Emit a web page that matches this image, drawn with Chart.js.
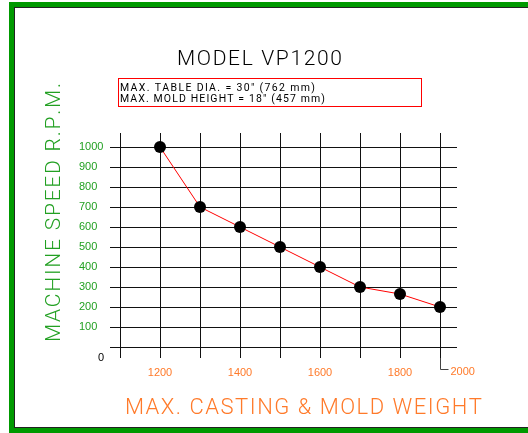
<!DOCTYPE html>
<html><head><meta charset="utf-8">
<script src="https://cdn.jsdelivr.net/npm/chart.js@4/dist/chart.umd.min.js"></script>
<style>
html,body{margin:0;padding:0;background:#fff;overflow:hidden;width:528px;height:433px;}
#frame{position:absolute;left:9px;top:2px;width:540px;height:431px;box-sizing:border-box;border:5px solid #009900;border-right:none;box-shadow:inset 1px 1px 0 #222, inset 0 -1px 0 #222;}
#c{position:absolute;left:0;top:0;}
</style>
</head><body>
<div id="frame"></div>
<canvas id="c" width="528" height="433"></canvas>
<script>
const titleText = 'MODEL VP1200';
const infoLines = ['MAX. TABLE DIA. = 30\u2033 (762 mm)', 'MAX. MOLD HEIGHT = 18\u2033 (457 mm)'];
const yTitle = 'MACHINE SPEED R.P.M.';
const xTitle = 'MAX. CASTING & MOLD WEIGHT';
const weights = [1200, 1300, 1400, 1500, 1600, 1700, 1800, 1900];
const rpm = [1000, 700, 600, 500, 400, 300, 265, 200];
const xGridValues = [1100, 1200, 1300, 1400, 1500, 1600, 1700, 1800, 1900];
const xTickLabels = ['', '1200', '', '1400', '', '1600', '', '1800', '2000'];
const yGridValues = [0, 100, 200, 300, 400, 500, 600, 700, 800, 900, 1000];
const yTickLabels = ['0', '100', '200', '300', '400', '500', '600', '700', '800', '900', '1000'];

const green = '#22a022';
const orange = '#ff7a2a';

// draw text spread to a target width (CAD-like wide lettering)
function spaced(ctx, text, x, y, width, align) {
  const chars = [...text];
  const ws = chars.map(c => ctx.measureText(c).width);
  const natural = ws.reduce((a, b) => a + b, 0);
  const extra = chars.length > 1 ? (width - natural) / (chars.length - 1) : 0;
  let cx = align === 'center' ? x - width / 2 : x;
  ctx.save();
  ctx.textAlign = 'left';
  chars.forEach((c, i) => { ctx.fillText(c, cx, y); cx += ws[i] + extra; });
  ctx.restore();
}

const deco = {
  id: 'deco',
  afterDraw(chart) {
    const ctx = chart.ctx, xs = chart.scales.x, ys = chart.scales.y, ca = chart.chartArea;
    ctx.save();
    ctx.textBaseline = 'middle';
    // title
    ctx.fillStyle = '#000';
    ctx.font = '300 21px Roboto';
    spaced(ctx, titleText, 259.5, 60, 165, 'center');
    // info box
    ctx.strokeStyle = '#ff0000';
    ctx.lineWidth = 1;
    ctx.strokeRect(118.5, 78.5, 303, 28);
    ctx.font = '400 10.5px Roboto';
    spaced(ctx, infoLines[0], 120, 88.5, 195, 'left');
    spaced(ctx, infoLines[1], 120, 99.5, 205, 'left');
    // y title
    ctx.save();
    ctx.translate(55, 212.5);
    ctx.rotate(-Math.PI / 2);
    ctx.fillStyle = green;
    ctx.font = '300 21px Roboto';
    spaced(ctx, yTitle, 0, 0, 259, 'center');
    ctx.restore();
    // x title
    ctx.fillStyle = orange;
    ctx.font = '300 22px Roboto';
    spaced(ctx, xTitle, 303.5, 408, 357, 'center');
    // zero label
    const y0 = ys.getPixelForValue(yGridValues[0]);
    ctx.fillStyle = '#000';
    ctx.font = '11px "Liberation Sans"';
    ctx.textAlign = 'center';
    ctx.fillText(yTickLabels[0], 101, y0 + 11);
    // last x label with leader
    const last = xGridValues.length - 1;
    const xl = Math.round(xs.getPixelForValue(xGridValues[last])) + 0.5;
    ctx.strokeStyle = '#444';
    ctx.lineWidth = 1;
    ctx.beginPath();
    ctx.moveTo(xl, ca.bottom);
    ctx.lineTo(xl, ca.bottom + 11.5);
    ctx.lineTo(xl + 8, ca.bottom + 11.5);
    ctx.stroke();
    ctx.fillStyle = orange;
    ctx.textAlign = 'left';
    ctx.fillText(xTickLabels[last], xl + 10, ca.bottom + 13.5);
    ctx.restore();
  }
};

new Chart(document.getElementById('c'), {
  type: 'line',
  data: {
    datasets: [{
      data: weights.map((w, i) => ({x: w, y: rpm[i]})),
      borderColor: '#ff0000',
      borderWidth: 1,
      pointBackgroundColor: '#000',
      pointBorderColor: '#000',
      pointBorderWidth: 0,
      pointRadius: 6,
      tension: 0,
      fill: false
    }]
  },
  options: {
    responsive: false,
    animation: false,
    layout: {padding: {left: 79, top: 133, right: 71, bottom: 0}},
    plugins: {legend: {display: false}, tooltip: {enabled: false}, title: {display: false}},
    scales: {
      x: {
        type: 'linear',
        min: 1075,
        max: 1942.5,
        afterBuildTicks(s) { s.ticks = xGridValues.map(v => ({value: v})); },
        afterFit(s) { s.height = 75; },
        border: {display: false},
        grid: {color: '#111', lineWidth: 1, drawTicks: false},
        ticks: {
          autoSkip: false,
          maxRotation: 0,
          padding: 8,
          color: orange,
          font: {family: 'Liberation Sans', size: 11},
          callback(v, i) { return i === xGridValues.length - 1 ? '' : xTickLabels[i]; }
        }
      },
      y: {
        type: 'linear',
        min: -55,
        max: 1070,
        afterBuildTicks(s) { s.ticks = yGridValues.map(v => ({value: v})); },
        afterFit(s) { s.width = 31; },
        border: {display: false},
        grid: {color: '#111', lineWidth: 1, drawTicks: false},
        ticks: {
          autoSkip: false,
          crossAlign: 'far',
          color: green,
          font: {family: 'Liberation Sans', size: 11},
          callback(v, i) { return i === 0 ? '' : yTickLabels[i]; }
        }
      }
    }
  },
  plugins: [deco]
});
</script>
</body></html>
